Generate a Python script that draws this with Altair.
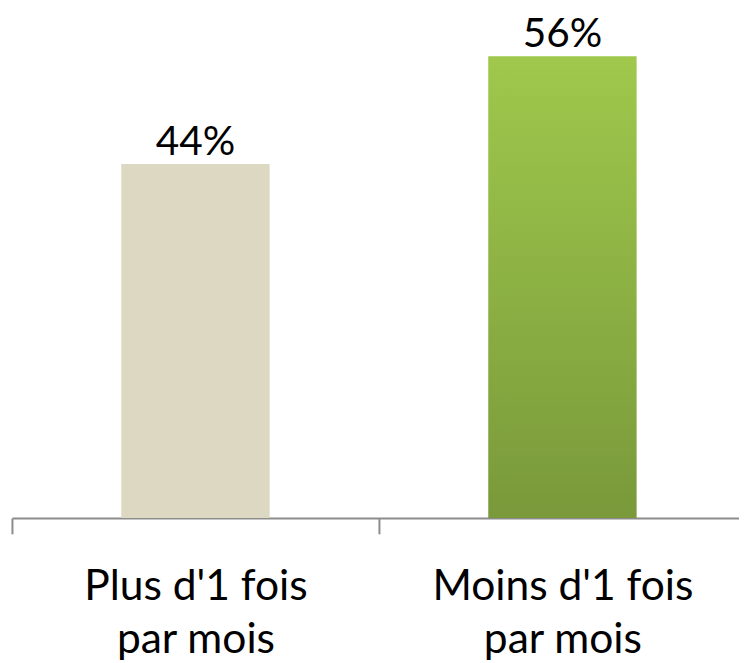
import altair as alt
import pandas as pd

categories = ["Plus d'1 fois|par mois", "Moins d'1 fois|par mois"]
values = [44, 56]
pct_labels = ["44%", "56%"]

df = pd.DataFrame({"cat": categories, "value": values, "label": pct_labels})

FONT = "Lato"
cat_array = "[" + ",".join('"' + c + '"' for c in categories) + "]"

x_scale = alt.Scale(domain=[0, 735 / 371], nice=False, zero=False, padding=0)
x_enc = alt.X(
    "pos:Q",
    title=None,
    scale=x_scale,
    axis=alt.Axis(
        values=[0, 0.5, 1, 1.5],
        labelExpr=f"datum.value % 1 == 0 ? '' : split({cat_array}[floor(datum.value)], '|')",
        labelAngle=0,
        labelFont=FONT,
        labelFontSize=43,
        labelColor="#000000",
        labelLineHeight=54,
        labelPadding=32,
        labelBaseline="top",
        labelLimit=0,
        labelFlush=False,
        labelOverlap=False,
        tickSize=16,
        tickWidth=2,
        tickColor="#8c8c8c",
        tickOpacity={"condition": {"test": "datum.value % 1 == 0", "value": 1}, "value": 0},
        domainColor="#8c8c8c",
        domainWidth=2,
        grid=False,
    ),
)
y_scale = alt.Scale(domain=[4.6, 60.97], nice=False, zero=False, padding=0)
y_enc = alt.Y("value:Q", scale=y_scale, axis=None)

base = (
    alt.Chart(df)
    .transform_window(idx="row_number()")
    .transform_calculate(pos="datum.idx - 0.5")
)

bar1 = base.transform_filter(alt.datum.idx == 1).mark_bar(
    size=150, clip=True, color="#DDD8C1"
).encode(x=x_enc, y=y_enc)

bar2 = base.transform_filter(alt.datum.idx == 2).mark_bar(
    size=150,
    clip=True,
    color=alt.Gradient(
        gradient="linear",
        x1=0, y1=0, x2=0, y2=1,
        stops=[
            alt.GradientStop(offset=0, color="#9FC84C"),
            alt.GradientStop(offset=1, color="#769539"),
        ],
    ),
).encode(x=x_enc, y=y_enc)

text = base.mark_text(
    font=FONT, fontSize=41, color="#000000", baseline="alphabetic", dy=-9
).encode(x=x_enc, y=y_enc, text="label:N")

chart = (
    alt.layer(bar1, bar2, text)
    .properties(
        width=735,
        height=512,
        autosize=alt.AutoSizeParams(type="none"),
        padding={"left": 4, "top": 0, "right": 0, "bottom": 143},
    )
    .configure_view(stroke=None)
)

chart.save("out.html", embed_options={"renderer": "svg", "actions": False})
